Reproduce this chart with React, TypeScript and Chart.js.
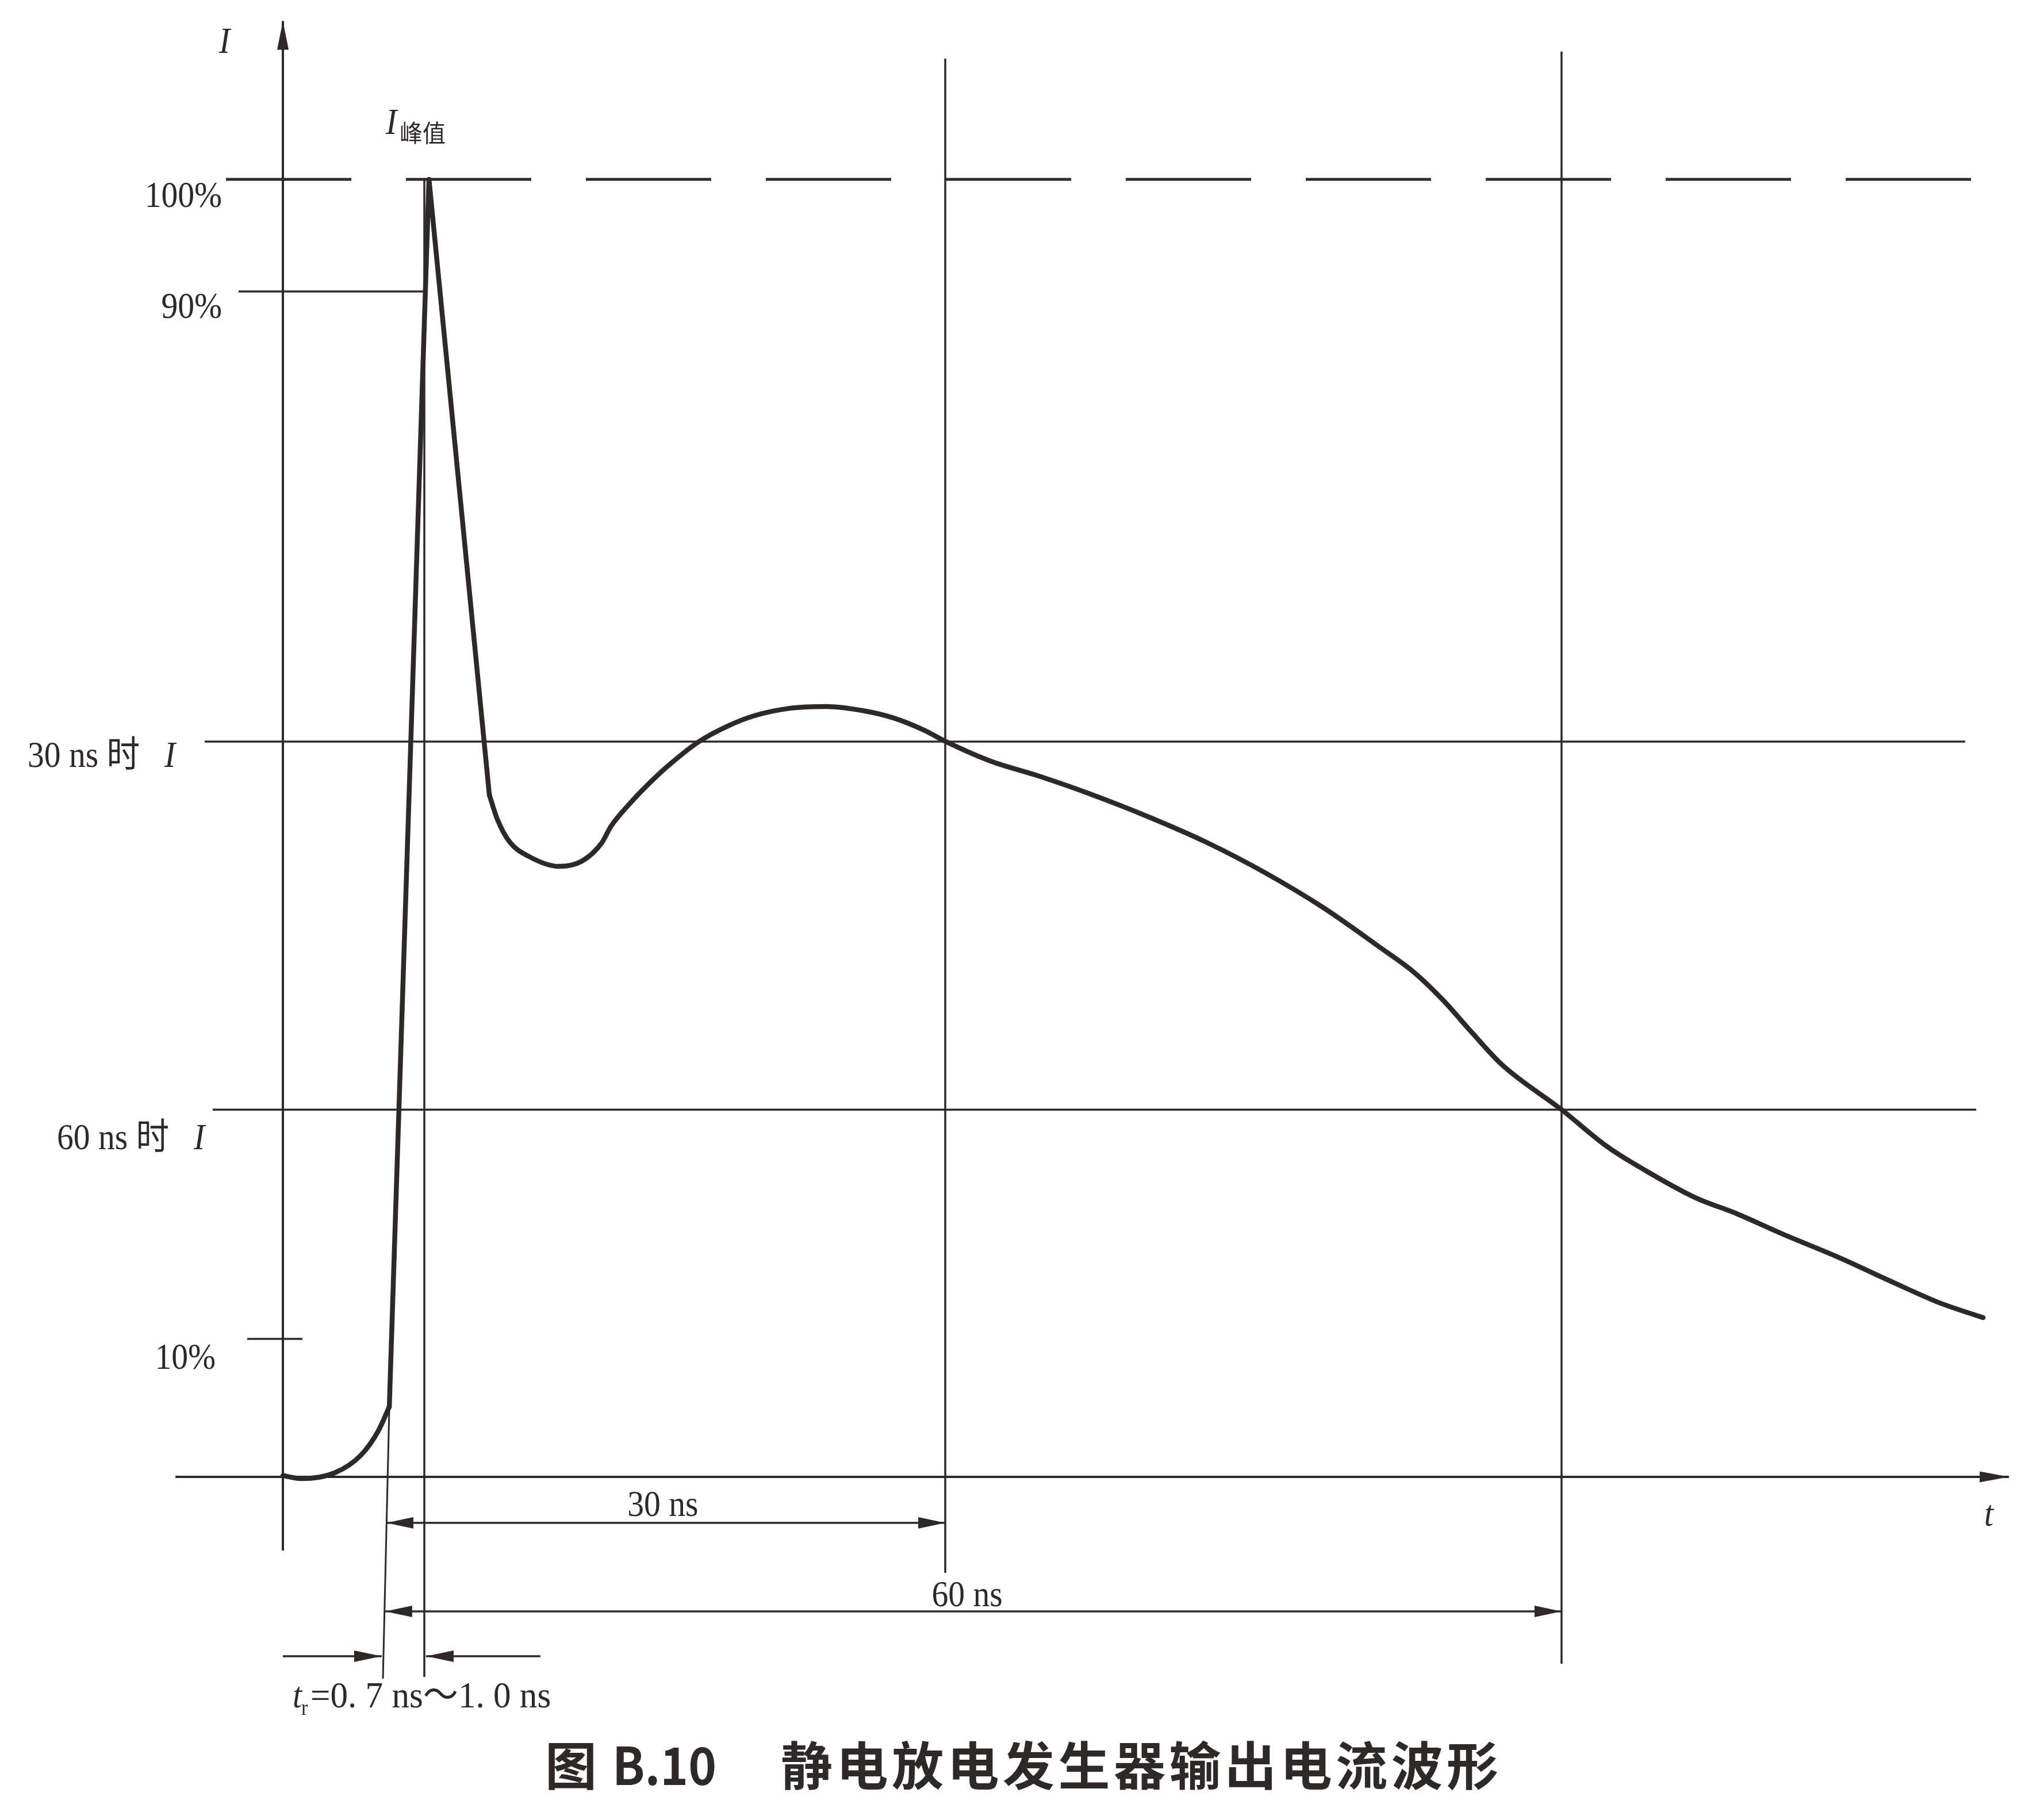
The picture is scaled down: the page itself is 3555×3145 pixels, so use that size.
import React, { useEffect, useRef } from 'react';
import { Chart, registerables } from 'chart.js';

Chart.register(...registerables);

const CANVAS_W = 3555;
const CANVAS_H = 3145;
// Schematic axes: t in ns-like units measured from the I axis, current in % of I peak
const X_MIN = -16.4, X_MAX = 102.1;
const Y_MIN = -25.52, Y_MAX = 113.82;

const INK = '#2e2927';
const SERIF = '"Liberation Serif", "Noto Sans CJK SC", serif';
const HEI = '"Noto Sans CJK SC", "Noto Sans", sans-serif';

// ---- waveform ----
const toeT = [0, 1.07, 3.0, 4.53, 5.53, 6.17];
const toeI = [0.1, -0.13, 0.31, 1.68, 3.54, 5.41];
const spikeT = [6.17, 8.47, 11.97];
const spikeI = [5.41, 100, 52.55];
const tailT = [11.97, 12.43, 13.13, 14.27, 16.0, 17.33, 18.47, 19.03, 20.2, 21.33, 22.3, 24.07, 25.87, 27.33, 29.43, 31.5, 33.6, 35.4, 37.17, 38.43, 41.03, 43.73, 46.7, 50.27, 53.6, 56.93, 60.27, 63.6, 65.6, 67.27, 68.93, 70.67, 74.13, 76.8, 78.93, 81.87, 84.27, 86.97, 90.17, 93.37, 96.03, 98.57];
const tailI = [52.55, 50.69, 48.96, 47.81, 47.05, 47.45, 48.83, 50.16, 52.02, 53.57, 54.76, 56.62, 57.91, 58.66, 59.24, 59.37, 59.06, 58.49, 57.55, 56.67, 55.16, 54.05, 52.68, 50.82, 48.87, 46.57, 43.91, 40.81, 38.86, 36.73, 34.25, 31.77, 28.3, 25.43, 23.66, 21.53, 20.29, 18.7, 16.93, 14.98, 13.42, 12.27];

// ---- reference levels (% of I peak) ----
const LEVEL_VALUES = [100, 91.36, 10.63];
const LEVEL_LABELS = ['100%', '90%', '10%'];
const I_AT_30NS = 56.67;
const I_AT_60NS = 28.3;

// ---- time marks ----
const T_PEAK = 8.2;
const T_30NS = 38.4;
const T_60NS = 74.13;
const T_RISE_FOOT = [5.8, 6.17]; // extension of rising edge
const DIM_LABELS = ['30 ns', '60 ns'];

const pts = (ts: number[], vs: number[]) => ts.map((t, i) => ({ x: t, y: vs[i] }));
const seg = (x1: number, y1: number, x2: number, y2: number) => [{ x: x1, y: y1 }, { x: x2, y: y2 }];

function line(data: any[], width: number, extra: any = {}) {
  return {
    data,
    showLine: true,
    borderColor: INK,
    backgroundColor: INK,
    borderWidth: width,
    pointRadius: 0,
    pointHoverRadius: 0,
    tension: 0,
    borderCapStyle: 'butt',
    ...extra,
  };
}

const arrowPlugin = {
  id: 'arrowHeads',
  afterDatasetsDraw(chart: any) {
    const ctx = chart.ctx;
    ctx.save();
    ctx.fillStyle = INK;
    chart.data.datasets.forEach((ds: any, i: number) => {
      if (!ds.arrow) return;
      const els = chart.getDatasetMeta(i).data;
      const a = els[0], b = els[els.length - 1];
      const L = ds.arrowLen || 48, Wd = ds.arrowWidth || 19;
      const head = (tip: any, from: any) => {
        const dx = tip.x - from.x, dy = tip.y - from.y;
        const d = Math.hypot(dx, dy) || 1;
        const ux = dx / d, uy = dy / d;
        ctx.beginPath();
        ctx.moveTo(tip.x, tip.y);
        ctx.lineTo(tip.x - ux * L - uy * Wd / 2, tip.y - uy * L + ux * Wd / 2);
        ctx.lineTo(tip.x - ux * L + uy * Wd / 2, tip.y - uy * L - ux * Wd / 2);
        ctx.closePath();
        ctx.fill();
      };
      if (ds.arrow === 'end' || ds.arrow === 'both') head(b, a);
      if (ds.arrow === 'start' || ds.arrow === 'both') head(a, b);
    });
    ctx.restore();
  },
};

function drawText(ctx: any, text: string, x: number, y: number, font: string, align: string, baseline: string, sx = 0.9) {
  ctx.save();
  ctx.font = font;
  ctx.fillStyle = INK;
  ctx.textAlign = align;
  ctx.textBaseline = baseline;
  ctx.translate(x, y);
  ctx.scale(sx, 1);
  ctx.fillText(text, 0, 0);
  ctx.restore();
}

const textPlugin = {
  id: 'figureText',
  beforeDraw(chart: any) {
    const ctx = chart.ctx;
    ctx.save();
    ctx.fillStyle = '#ffffff';
    ctx.fillRect(0, 0, chart.width, chart.height);
    ctx.restore();
  },
  afterDraw(chart: any) {
    const ctx = chart.ctx;
    const xs = chart.scales.x, ys = chart.scales.y;
    const X = (t: number) => xs.getPixelForValue(t);
    const Y = (v: number) => ys.getPixelForValue(v);
    const serif = `64px ${SERIF}`;
    const serifI = `italic 64px ${SERIF}`;

    // axis names
    drawText(ctx, 'I', X(-3.7), Y(109.75), serifI, 'left', 'alphabetic');
    drawText(ctx, 't', X(98.63), Y(-3.77), serifI, 'left', 'alphabetic');

    // level labels
    drawText(ctx, LEVEL_LABELS[0], X(-3.53), Y(97.87), serif, 'right', 'alphabetic');
    drawText(ctx, LEVEL_LABELS[1], X(-3.53), Y(89.32), serif, 'right', 'alphabetic');
    drawText(ctx, LEVEL_LABELS[2], X(-3.9), Y(8.33), serif, 'right', 'alphabetic');

    drawText(ctx, '30 ns 时', X(-14.8), Y(54.72), serif, 'left', 'alphabetic');
    drawText(ctx, 'I', X(-6.87), Y(54.72), serifI, 'left', 'alphabetic');
    drawText(ctx, '60 ns 时', X(-13.1), Y(25.25), serif, 'left', 'alphabetic');
    drawText(ctx, 'I', X(-5.17), Y(25.25), serifI, 'left', 'alphabetic');

    // peak label
    drawText(ctx, 'I', X(5.97), Y(103.5), serifI, 'left', 'alphabetic');
    drawText(ctx, '峰值', X(6.77), Y(103.57), `42px ${HEI}`, 'left', 'middle', 0.95);

    // dimension labels
    drawText(ctx, DIM_LABELS[0], X(22.03), Y(-3.01), serif, 'center', 'alphabetic');
    drawText(ctx, DIM_LABELS[1], X(39.67), Y(-9.97), serif, 'center', 'alphabetic');

    // rise time
    drawText(ctx, 't', X(0.57), Y(-17.77), serifI, 'left', 'alphabetic');
    drawText(ctx, 'r', X(1.07), Y(-18.34), `38px ${SERIF}`, 'left', 'alphabetic');
    drawText(ctx, '=0. 7 ns～1. 0 ns', X(1.6), Y(-17.77), serif, 'left', 'alphabetic', 0.955);

    // caption
    const cy = Y(-22.24);
    const bold = `bold 90px ${HEI}`;
    drawText(ctx, '图', X(15.2), cy, bold, 'left', 'middle', 1.0);
    drawText(ctx, 'B.10', X(19.1), cy, bold, 'left', 'middle', 0.92);
    const chars = Array.from('静电放电发生器输出电流波形');
    const x0 = X(28.87);
    chars.forEach((c, k) => drawText(ctx, c, x0 + k * 96.5, cy, bold, 'left', 'middle', 1.0));
  },
};

export default function App() {
  const ref = useRef<HTMLCanvasElement | null>(null);
  useEffect(() => {
    document.body.style.margin = '0';
    document.body.style.background = '#ffffff';
    const canvas = ref.current;
    if (!canvas) return;
    const curve = { cubicInterpolationMode: 'monotone', borderCapStyle: 'round', borderJoinStyle: 'round' };
    const datasets: any[] = [
      line(pts(toeT, toeI), 8.5, curve),
      line(pts(spikeT, spikeI), 8.5, { borderCapStyle: 'round', borderJoinStyle: 'round' }),
      line(pts(tailT, tailI), 8.5, curve),
      // axes
      line(seg(0, -5.67, 0, 112.2), 4, { arrow: 'end', arrowLen: 50, arrowWidth: 20 }),
      line(seg(-6.23, 0, 100.07, 0), 4, { arrow: 'end', arrowLen: 51, arrowWidth: 19 }),
      // level lines
      line(seg(-3.3, LEVEL_VALUES[0], 98.3, LEVEL_VALUES[0]), 5, { borderDash: [218, 95] }),
      line(seg(-2.57, LEVEL_VALUES[1], 8.17, LEVEL_VALUES[1]), 3.5),
      line(seg(-2.07, LEVEL_VALUES[2], 1.13, LEVEL_VALUES[2]), 3.5),
      line(seg(-4.53, I_AT_30NS, 97.53, I_AT_30NS), 3.5),
      line(seg(-4.07, I_AT_60NS, 98.17, I_AT_60NS), 3.5),
      // time marks
      line(seg(T_PEAK, 100, T_PEAK, -15.42), 3.5),
      line(seg(T_30NS, 109.3, T_30NS, -7.4), 3.5),
      line(seg(T_60NS, 109.84, T_60NS, -14.4), 3.5),
      line(seg(T_RISE_FOOT[0], -15.55, T_RISE_FOOT[1], 5.41), 3),
      // dimension arrows
      line(seg(6.0, -3.54, T_30NS, -3.54), 3.5, { arrow: 'both', arrowLen: 47, arrowWidth: 20 }),
      line(seg(5.93, -10.37, T_60NS, -10.37), 3.5, { arrow: 'both', arrowLen: 47, arrowWidth: 20 }),
      line(seg(0, -13.82, 5.73, -13.82), 3.5, { arrow: 'end', arrowLen: 48, arrowWidth: 20 }),
      line(seg(14.93, -13.82, 8.3, -13.82), 3.5, { arrow: 'end', arrowLen: 48, arrowWidth: 20 }),
    ];
    const chart = new Chart(canvas, {
      type: 'scatter',
      data: { datasets },
      options: {
        responsive: false,
        maintainAspectRatio: false,
        animation: false,
        devicePixelRatio: 1,
        events: [],
        layout: { padding: 0, autoPadding: false },
        plugins: { legend: { display: false }, tooltip: { enabled: false }, title: { display: false } },
        scales: {
          x: { type: 'linear', min: X_MIN, max: X_MAX, display: false },
          y: { type: 'linear', min: Y_MIN, max: Y_MAX, display: false },
        },
        elements: { point: { radius: 0, hoverRadius: 0 } },
      },
      plugins: [arrowPlugin, textPlugin],
    } as any);
    return () => chart.destroy();
  }, []);
  return (
    <canvas
      ref={ref}
      width={CANVAS_W}
      height={CANVAS_H}
      style={{ display: 'block', width: CANVAS_W, height: CANVAS_H }}
    />
  );
}
